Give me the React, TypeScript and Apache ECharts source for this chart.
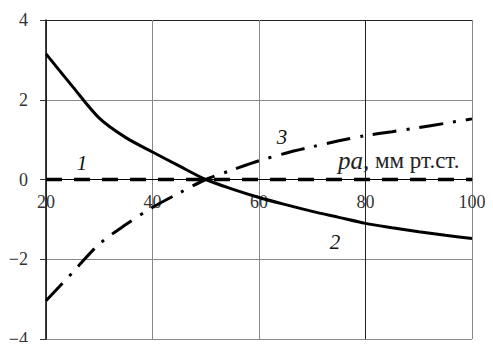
import React, { useEffect, useRef } from "react";
import * as echarts from "echarts";

const xValues = [20, 25, 30, 35, 40, 45, 50, 55, 60, 65, 70, 75, 80, 85, 90, 95, 100];
const curve1 = [0, 0, 0, 0, 0, 0, 0, 0, 0, 0, 0, 0, 0, 0, 0, 0, 0];
const curve2 = [3.15, 2.33, 1.54, 1.05, 0.69, 0.34, 0.0, -0.24, -0.45, -0.63, -0.8, -0.95, -1.1, -1.21, -1.31, -1.4, -1.48];
const curve3 = [-3.04, -2.33, -1.62, -1.13, -0.7, -0.34, 0.0, 0.24, 0.47, 0.66, 0.82, 0.97, 1.1, 1.2, 1.3, 1.41, 1.52];

const xMin = 20;
const xMax = 100;
const xStep = 20;
const yMin = -4;
const yMax = 4;
const yStep = 2;

const curveLabels = ["1", "2", "3"];
const axisTitleItalic = "pa,";
const axisTitleRest = " мм рт.ст.";

const FONT = "Liberation Serif";

export default function App() {
  const ref = useRef<HTMLDivElement>(null);
  useEffect(() => {
    if (!ref.current) return;
    const chart = echarts.init(ref.current, undefined, { renderer: "svg" });
    const toPairs = (ys: number[]) => xValues.map((x, i) => [x, ys[i]]);
    const gridTop = 20;
    const gridBottom = 11;
    const gridHeight = 350 - gridTop - gridBottom;
    chart.setOption({
      animation: false,
      backgroundColor: "#fff",
      grid: { left: 46, right: 21, top: gridTop, bottom: gridBottom, containLabel: false, outerBoundsMode: "none" },
      xAxis: {
        type: "value",
        min: xMin,
        max: xMax,
        interval: xStep,
        position: "bottom",
        offset: -gridHeight / 2,
        axisLine: { show: true, onZero: false, lineStyle: { color: "#000", width: 1.2 } },
        axisTick: { show: false },
        axisLabel: { color: "#333", fontFamily: FONT, fontSize: 18, margin: 13 },
        splitLine: {
          show: true,
          lineStyle: { color: ["#888", "#888", "#888", "#222", "#888"], width: 1 },
        },
      },
      yAxis: {
        type: "value",
        min: yMin,
        max: yMax,
        interval: yStep,
        axisLine: { show: true, onZero: false, lineStyle: { color: "#000", width: 1.5 } },
        axisTick: { show: true, length: 6, lineStyle: { color: "#333" } },
        axisLabel: {
          color: "#333",
          fontFamily: FONT,
          fontSize: 18,
          margin: 18,
          formatter: (v: number) => String(v).replace("-", "\u2212"),
        },
        splitLine: {
          show: true,
          lineStyle: { color: ["#888", "#888", "#000", "#888", "#222"], width: 1 },
        },
      },
      series: [
        {
          type: "line",
          data: toPairs(curve1),
          showSymbol: false,
          lineStyle: { color: "#000", width: 3.5, type: [16, 12] },
          z: 3,
        },
        {
          type: "line",
          data: toPairs(curve2),
          smooth: 0.3,
          showSymbol: false,
          lineStyle: { color: "#000", width: 3 },
          z: 4,
        },
        {
          type: "line",
          data: toPairs(curve3),
          smooth: 0.3,
          showSymbol: false,
          lineStyle: { color: "#000", width: 3, type: [24, 10, 3, 10] },
          z: 4,
        },
      ],
      graphic: [
        {
          type: "text",
          x: 82,
          y: 163,
          style: { text: curveLabels[0], fontFamily: FONT, fontStyle: "italic", fontSize: 21, fill: "#111", align: "center", verticalAlign: "middle" },
        },
        {
          type: "text",
          x: 335,
          y: 242,
          style: { text: curveLabels[1], fontFamily: FONT, fontStyle: "italic", fontSize: 21, fill: "#111", align: "center", verticalAlign: "middle" },
        },
        {
          type: "text",
          x: 282,
          y: 137,
          style: { text: curveLabels[2], fontFamily: FONT, fontStyle: "italic", fontSize: 21, fill: "#111", align: "center", verticalAlign: "middle" },
        },
        {
          type: "text",
          x: 338,
          y: 160,
          style: {
            text: `{a|${axisTitleItalic}}{b|${axisTitleRest}}`,
            verticalAlign: "middle",
            rich: {
              a: { fontFamily: FONT, fontStyle: "italic", fontSize: 25, fill: "#222" },
              b: { fontFamily: FONT, fontSize: 23, fill: "#222" },
            },
          },
        },
      ],
    });
    return () => chart.dispose();
  }, []);
  return <div ref={ref} style={{ width: 493, height: 350, margin: -8 }} />;
}
